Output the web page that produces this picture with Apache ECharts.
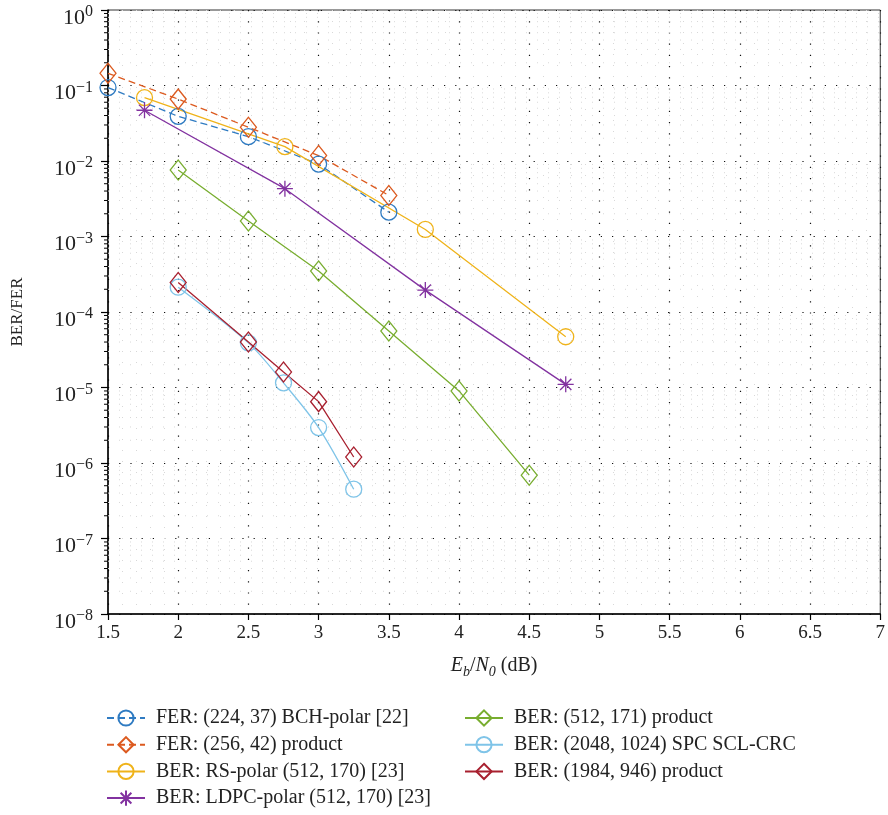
<!DOCTYPE html>
<html>
<head>
<meta charset="utf-8">
<script src="https://cdn.jsdelivr.net/npm/echarts@6/dist/echarts.min.js"></script>
<style>html,body{margin:0;padding:0;background:#fff}#c{width:888px;height:815px}</style>
</head>
<body>
<div id="c"></div>
<script>
// ---- data ----
const xBCH = [1.5, 2, 2.5, 3, 3.5];
const ferBCH = [0.094, 0.039, 0.021, 0.0091, 0.0021];
const xP256 = [1.5, 2, 2.5, 3, 3.5];
const ferP256 = [0.145, 0.066, 0.028, 0.0118, 0.0035];
const xRS = [1.76, 2.76, 3.76, 4.76];
const berRS = [0.069, 0.0155, 0.00124, 4.7e-5];
const xLDPC = [1.76, 2.76, 3.76, 4.76];
const berLDPC = [0.047, 0.0043, 1.95e-4, 1.1e-5];
const xP512 = [2, 2.5, 3, 3.5, 4, 4.5];
const berP512 = [0.0076, 0.0016, 3.5e-4, 5.6e-5, 9.0e-6, 6.9e-7];
const xSPC = [2, 2.5, 2.75, 3, 3.25];
const berSPC = [2.13e-4, 3.9e-5, 1.15e-5, 2.95e-6, 4.5e-7];
const xP1984 = [2, 2.5, 2.75, 3, 3.25];
const berP1984 = [2.46e-4, 4.0e-5, 1.6e-5, 6.5e-6, 1.2e-6];

const names = [
  'FER: (224, 37) BCH-polar [22]',
  'FER: (256, 42) product',
  'BER: RS-polar (512, 170) [23]',
  'BER: LDPC-polar (512, 170) [23]',
  'BER: (512, 171) product',
  'BER: (2048, 1024) SPC SCL-CRC',
  'BER: (1984, 946) product'
];
const xTicks = [1.5, 2, 2.5, 3, 3.5, 4, 4.5, 5, 5.5, 6, 6.5, 7];
const yDecades = [-8, -7, -6, -5, -4, -3, -2, -1, 0];
const yMinorMantissas = [2, 3, 4, 5, 6, 7, 8, 9];
const yMinorTicks = [];
yDecades.slice(0, -1).forEach(e => yMinorMantissas.forEach(m => yMinorTicks.push(m * Math.pow(10, e))));

const FONT = 'Liberation Serif';
const colors = ['#2f7bc2', '#dc5a1f', '#efb31a', '#8232a0', '#78ad2f', '#7fc4e8', '#a8202f'];

function pairs(xs, ys) { return xs.map((x, i) => [x, ys[i]]); }

const starPath = 'path://M10,0L10,20M0,10L20,10M2.93,2.93L17.07,17.07M2.93,17.07L17.07,2.93';

function mkSeries(name, xs, ys, color, symbol, dashed, extra) {
  const isDiamond = symbol === 'diamond';
  return Object.assign({
    name: name,
    type: 'line',
    data: pairs(xs, ys),
    symbol: symbol,
    symbolSize: isDiamond ? [16, 20] : 16,
    showAllSymbol: true,
    lineStyle: { color: color, width: 1.3, type: dashed ? [7, 4] : 'solid' },
    itemStyle: { color: 'transparent', borderColor: color, borderWidth: 1.3 },
    emphasis: { disabled: true },
    animation: false,
    z: 3
  }, extra || {});
}

const chart = echarts.init(document.getElementById('c'), null, { renderer: 'canvas' });

const legendCommon = {
  orient: 'vertical', itemWidth: 38, itemHeight: 19, itemGap: 6.7, top: 708, height: 107, padding: 0,
  textStyle: { fontFamily: FONT, fontSize: 20, lineHeight: 19, color: '#222', padding: [0, 0, 0, 6] },
  selectedMode: false
};

const option = {
  backgroundColor: '#fff',
  animation: false,
  grid: { left: 108, top: 10, width: 773, height: 604, show: true, borderColor: '#333', borderWidth: 1, backgroundColor: 'transparent' },
  xAxis: {
    type: 'value', min: 1.5, max: 7, interval: 0.5,
    name: '{i|E}{sb|b}{n|/}{i|N}{sb|0}{n| (dB)}',
    nameLocation: 'middle', nameGap: 39,
    nameTextStyle: {
      fontFamily: FONT, color: '#222',
      rich: {
        i: { fontFamily: FONT, fontStyle: 'italic', fontSize: 20, color: '#222', lineHeight: 24 },
        n: { fontFamily: FONT, fontSize: 20, color: '#222', lineHeight: 24 },
        sb: { fontFamily: FONT, fontStyle: 'italic', fontSize: 14, color: '#222', padding: [12, 0, 0, 0] }
      }
    },
    axisLine: { show: true, lineStyle: { color: '#000', width: 1.5 } },
    axisTick: { show: true, inside: false, length: 6, lineStyle: { color: '#000', width: 1.2 } },
    axisLabel: { fontFamily: FONT, fontSize: 19, color: '#222', margin: 10,
      formatter: v => String(v) },
    splitLine: { show: true, lineStyle: { color: '#111', width: 1.2, type: [1.2, 10] } },
    minorTick: { show: false, splitNumber: 5 },
    minorSplitLine: { show: true, lineStyle: { color: '#d8d8d8', width: 1, type: [1, 10] } }
  },
  yAxis: {
    type: 'log', logBase: 10, min: 1e-8, max: 1, interval: 1,
    name: 'BER/FER', nameLocation: 'middle', nameGap: 82, nameRotate: 90,
    nameTextStyle: { fontFamily: FONT, fontSize: 17, color: '#222' },
    axisLine: { show: true, lineStyle: { color: '#000', width: 1.5 } },
    axisTick: { show: true, inside: false, length: 7, lineStyle: { color: '#000', width: 1.2 } },
    axisLabel: {
      margin: 15, padding: [16, 0, 0, 0],
      formatter: function (v) {
        const e = Math.round(Math.log10(v));
        return '{b|10}{s|' + (e < 0 ? '\u2212' + (-e) : String(e)) + '}';
      },
      rich: {
        b: { fontFamily: FONT, fontSize: 22, color: '#222', lineHeight: 24 },
        s: { fontFamily: FONT, fontSize: 16, color: '#222', lineHeight: 16, padding: [0, 0, 12, 0] }
      }
    },
    splitLine: { show: true, lineStyle: { color: '#111', width: 1.2, type: [1.2, 10] } },
    minorTick: { show: false },
    minorSplitLine: { show: false }
  },
  legend: [
    Object.assign({ left: 106, data: names.slice(0, 4) }, legendCommon),
    Object.assign({ left: 464, data: names.slice(4) }, legendCommon)
  ],
  series: [
    {
      name: 'minorGrid',
      type: 'custom',
      silent: true,
      clip: false,
      z: 1,
      data: yMinorTicks.map(v => [1.5, v]),
      renderItem: function (params, api) {
        const v = api.value(1);
        const p0 = api.coord([1.5, v]);
        const p1 = api.coord([7, v]);
        return {
          type: 'group',
          children: [
            { type: 'line', shape: { x1: p0[0], y1: p0[1], x2: p1[0], y2: p1[1] },
              style: { stroke: '#d8d8d8', lineWidth: 1, lineDash: [1, 10] } },
            { type: 'line', shape: { x1: p0[0] - 4, y1: p0[1], x2: p0[0], y2: p0[1] },
              style: { stroke: '#000', lineWidth: 1 } }
          ]
        };
      }
    },
    mkSeries(names[0], xBCH, ferBCH, colors[0], 'circle', true),
    mkSeries(names[1], xP256, ferP256, colors[1], 'diamond', true),
    mkSeries(names[2], xRS, berRS, colors[2], 'circle', false),
    mkSeries(names[3], xLDPC, berLDPC, colors[3], starPath, false),
    mkSeries(names[4], xP512, berP512, colors[4], 'diamond', false),
    mkSeries(names[5], xSPC, berSPC, colors[5], 'circle', false, { smooth: 0.3 }),
    mkSeries(names[6], xP1984, berP1984, colors[6], 'diamond', false)
  ]
};
chart.setOption(option);
</script>
</body>
</html>
